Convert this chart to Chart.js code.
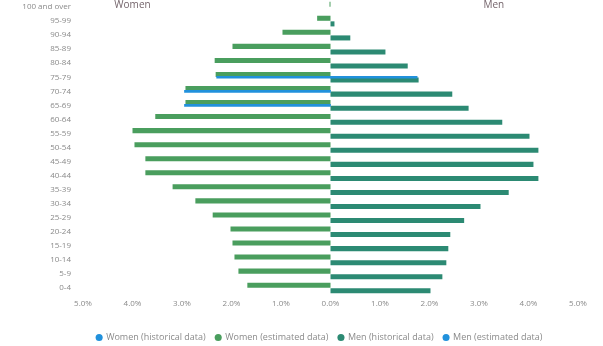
<!DOCTYPE html>
<html>
<head>
<meta charset="utf-8">
<script src="https://cdn.jsdelivr.net/npm/chart.js@4.4.0/dist/chart.umd.min.js"></script>
<style>
    html, body { margin: 0; padding: 0; background: #fff; }
    #wrap { width: 603px; height: 346px; }
</style>
</head>
<body>
<div id="wrap"><canvas id="pyramid"></canvas></div>
<script>
    // age groups, top to bottom
    var ageGroups = ['100 and over', '95-99', '90-94', '85-89', '80-84', '75-79', '70-74', '65-69', '60-64',
        '55-59', '50-54', '45-49', '40-44', '35-39', '30-34', '25-29', '20-24', '15-19', '10-14', '5-9', '0-4'];

    // share of total population, %
    var womenValues = [0.02, 0.27, 0.97, 1.98, 2.34, 2.32, 2.93, 2.93, 3.54, 4.0, 3.96, 3.74, 3.74, 3.19,
        2.73, 2.38, 2.02, 1.98, 1.94, 1.86, 1.68];
    var menValues = [0, 0.08, 0.4, 1.11, 1.56, 1.78, 2.46, 2.79, 3.47, 4.02, 4.2, 4.1, 4.2, 3.6,
        3.03, 2.7, 2.42, 2.38, 2.34, 2.26, 2.02];
    var womenEstimated = [null, null, null, null, null, 2.3, 2.95, 2.95, null, null, null, null, null, null,
        null, null, null, null, null, null, null];
    var menEstimated = [null, null, null, null, null, 1.75, null, null, null, null, null, null, null, null,
        null, null, null, null, null, null, null];

    var xTicks = [-5, -4, -3, -2, -1, 0, 1, 2, 3, 4, 5];

    var colors = {women: '#4a9e5e', men: '#2c8a73', estimate: '#2191dc', text: '#8a8a8a', head: '#74646b'};

    function neg(arr) {
        return arr.map(function (v) { return v === null ? null : -v; });
    }

    // "Women" / "Men" headings, plus legend placement tweaks
    var sideTitles = {
        id: 'sideTitles',
        afterInit: function (chart) {
            // keep the legend strip short so it sits at the very bottom
            var fit = chart.legend.fit;
            chart.legend.fit = function () {
                fit.call(this);
                this.height = 23;
            };
        },
        afterLayout: function (chart) {
            // legend is centred under the plot, not the whole canvas
            chart.legend.left += 24;
            chart.legend.right += 24;
        },
        afterDraw: function (chart) {
            var ctx = chart.ctx, x = chart.scales.x;
            ctx.save();
            ctx.font = '10px "Open Sans", sans-serif';
            ctx.fillStyle = colors.head;
            ctx.textAlign = 'center';
            ctx.textBaseline = 'middle';
            ctx.fillText('Women', x.getPixelForValue(-4), 5);
            ctx.fillText('Men', x.getPixelForValue(3.3), 5);
            ctx.restore();
        }
    };

    Chart.defaults.font.family = '"Open Sans", sans-serif';
    Chart.defaults.color = colors.text;

    new Chart(document.getElementById('pyramid'), {
        type: 'bar',
        data: {
            labels: ageGroups,
            datasets: [{
                label: 'Women (historical data)',
                data: neg(womenEstimated),
                backgroundColor: colors.estimate,
                grouped: false,
                barThickness: 2,
                order: -1
            }, {
                label: 'Women (estimated data)',
                data: neg(womenValues),
                backgroundColor: colors.women,
                stack: 'w',
                barPercentage: 0.9,
                categoryPercentage: 0.8
            }, {
                label: 'Men (historical data)',
                data: menValues,
                backgroundColor: colors.men,
                stack: 'm',
                barPercentage: 0.9,
                categoryPercentage: 0.8
            }, {
                label: 'Men (estimated data)',
                data: menEstimated,
                backgroundColor: colors.estimate,
                grouped: false,
                barThickness: 2,
                order: -1
            }]
        },
        options: {
            indexAxis: 'y',
            responsive: true, maintainAspectRatio: false,
            animation: false,
            layout: {padding: {left: 13, right: 25, top: 0, bottom: 0}},
            plugins: {
                legend: {
                    position: 'bottom',
                    labels: {
                        usePointStyle: true, pointStyle: 'circle', boxWidth: 5, boxHeight: 5,
                        padding: 10,
                        font: {size: 9},
                        sort: function (a, b) { return a.datasetIndex - b.datasetIndex; }
                    }
                },
                tooltip: {enabled: false}
            },
            scales: {
                x: {
                    min: -5, max: 5,
                    grid: {display: false, drawTicks: false},
                    border: {display: false},
                    afterBuildTicks: function (s) {
                        s.ticks = xTicks.map(function (v) { return {value: v}; });
                    },
                    afterFit: function (s) { s.height = 28; },
                    ticks: {
                        padding: 4,
                        font: {size: 8},
                        callback: function (v) { return Math.abs(v).toFixed(1) + '%'; }
                    }
                },
                y: {
                    grid: {display: false},
                    border: {display: false},
                    afterFit: function (s) {
                        s.width = 70;
                        s.paddingTop = 0;
                        s.paddingBottom = 0;
                    },
                    ticks: {padding: 4, font: {size: 8}, autoSkip: false}
                }
            }
        },
        plugins: [sideTitles]
    });
</script>
</body>
</html>
